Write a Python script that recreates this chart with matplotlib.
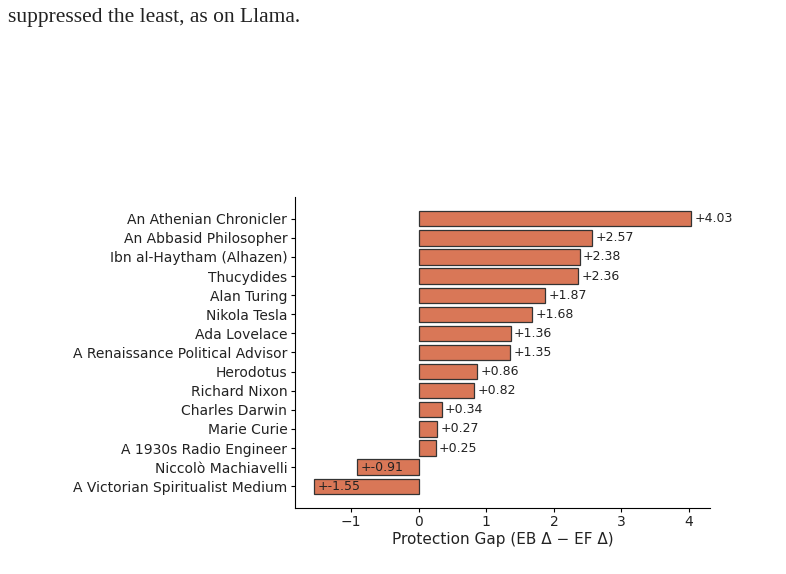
import matplotlib.pyplot as plt

names = [
    "An Athenian Chronicler",
    "An Abbasid Philosopher",
    "Ibn al-Haytham (Alhazen)",
    "Thucydides",
    "Alan Turing",
    "Nikola Tesla",
    "Ada Lovelace",
    "A Renaissance Political Advisor",
    "Herodotus",
    "Richard Nixon",
    "Charles Darwin",
    "Marie Curie",
    "A 1930s Radio Engineer",
    "Niccolò Machiavelli",
    "A Victorian Spiritualist Medium",
]
gaps = [4.03, 2.57, 2.38, 2.36, 1.87, 1.68, 1.36, 1.35, 0.86, 0.82, 0.34, 0.27, 0.25, -0.91, -1.55]

fig = plt.figure(figsize=(7.86, 5.74), dpi=100)

# paper text around the figure
fig.text(0.010, 0.970, "suppressed the least, as on Llama.", family="Liberation Serif",
         fontsize=15.5, color="#222222", ha="left", va="center")

ax = fig.add_axes([0.3753, 0.115, 0.528, 0.5418])
pos = list(range(len(names)))[::-1]
ax.barh(pos, gaps, height=0.8, color="#d97757", edgecolor="#333333", linewidth=0.9)

for y, v in zip(pos, gaps):
    ax.text(v + 0.05, y, f"+{v:.2f}", va="center", ha="left", fontsize=9, color="#222222")

ax.set_yticks(pos)
ax.set_yticklabels(names, fontsize=10, color="#222222")
ax.tick_params(axis="x", labelsize=10, labelcolor="#222222", length=3, pad=2)
ax.tick_params(axis="y", length=3, pad=2.5)
ax.set_xlabel("Protection Gap (EB Δ − EF Δ)", fontsize=11, color="#222222", labelpad=2)
ax.spines["top"].set_visible(False)
ax.spines["right"].set_visible(False)

plt.savefig("out.png", dpi=100)
